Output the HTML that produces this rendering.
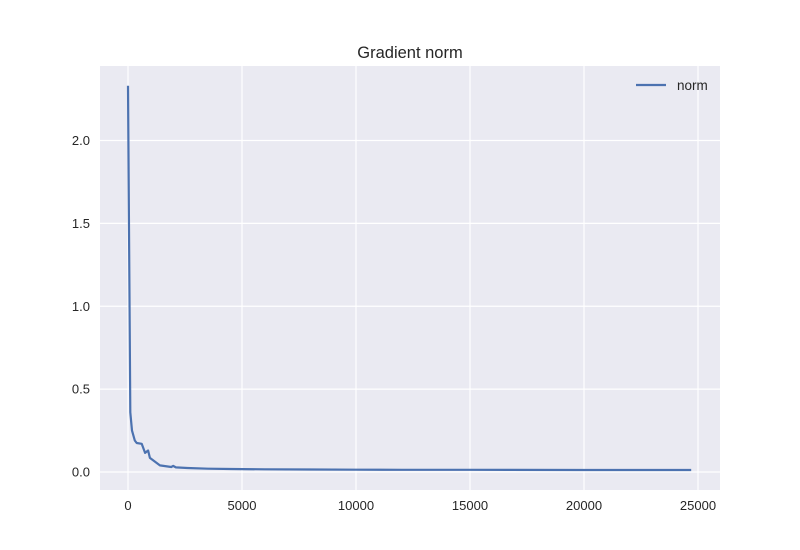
<!DOCTYPE html>
<html><head><meta charset="utf-8"><style>
body{margin:0;background:#fff;}
svg{display:block;font-family:"Liberation Sans",sans-serif;}
</style></head><body>
<svg id="chart" width="800" height="550">
<rect x="100" y="66" width="620" height="424" fill="#eaeaf2"/>
<g id="grid"></g>
<g id="ticks"></g>
<path id="line" fill="none" stroke="#4c72b0" stroke-width="2.2" stroke-linejoin="round"/>
<text x="410" y="58" text-anchor="middle" font-size="16.5" fill="#262626">Gradient norm</text>
<g>
<line x1="636" y1="85" x2="666" y2="85" stroke="#4c72b0" stroke-width="2.2"/>
<text x="677" y="90" font-size="13.5" fill="#262626">norm</text>
</g>
</svg>
<script>
const xs=[0,100,175,300,380,600,750,880,960,1400,1900,1980,2100,2600,3500,4500,6000,8000,10000,12000,15000,20000,24700];
const ys=[2.33,0.36,0.25,0.19,0.175,0.17,0.115,0.13,0.085,0.04,0.03,0.037,0.028,0.024,0.02,0.018,0.016,0.015,0.014,0.013,0.013,0.012,0.012];
const xTicks=[0,5000,10000,15000,20000,25000];
const yTicks=[0.0,0.5,1.0,1.5,2.0];
const X=v=>128+v*0.0228;
const Y=v=>472-v*165.75;
const ns="http://www.w3.org/2000/svg";
const grid=document.getElementById('grid'),ticks=document.getElementById('ticks');
xTicks.forEach(t=>{
 const l=document.createElementNS(ns,'line');
 l.setAttribute('x1',X(t));l.setAttribute('x2',X(t));l.setAttribute('y1',66);l.setAttribute('y2',490);
 l.setAttribute('stroke','#fff');l.setAttribute('stroke-width','1.2');
 
 
 grid.appendChild(l);
 const s=document.createElementNS(ns,'text');
 s.setAttribute('x',X(t));s.setAttribute('y',510);s.setAttribute('text-anchor','middle');
 s.setAttribute('font-size','13');s.setAttribute('fill','#262626');s.textContent=t;
 
 
 ticks.appendChild(s);
});
yTicks.forEach(t=>{
 const l=document.createElementNS(ns,'line');
 l.setAttribute('x1',100);l.setAttribute('x2',720);l.setAttribute('y1',Y(t));l.setAttribute('y2',Y(t));
 l.setAttribute('stroke','#fff');l.setAttribute('stroke-width','1.2');
 
 
 grid.appendChild(l);
 const s=document.createElementNS(ns,'text');
 s.setAttribute('x',90);s.setAttribute('y',Y(t)+4.5);s.setAttribute('text-anchor','end');
 s.setAttribute('font-size','13');s.setAttribute('fill','#262626');s.textContent=t.toFixed(1);
 
 
 ticks.appendChild(s);
});
document.getElementById('line').setAttribute('d',xs.map((x,i)=>(i?'L':'M')+X(x).toFixed(1)+','+Y(ys[i]).toFixed(1)).join(''));
</script>
</body></html>
